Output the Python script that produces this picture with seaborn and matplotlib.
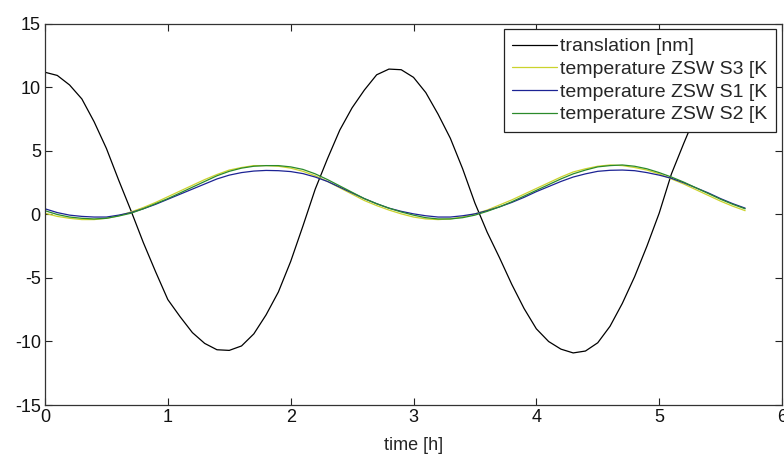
import matplotlib
matplotlib.use("Agg")
import matplotlib.pyplot as plt
from matplotlib import font_manager
import numpy as np
import pandas as pd
import seaborn as sns

# time axis in hours (sampled every 0.1 h)
time_h = [round(0.1 * i, 1) for i in range(58)]

translation_nm = [
    11.2, 10.95, 10.2, 9.1, 7.3, 5.2, 2.7, 0.3, -2.2, -4.5,
    -6.7, -8.05, -9.3, -10.15, -10.65, -10.7, -10.35, -9.4, -7.9, -6.1,
    -3.7, -0.9, 2.0, 4.4, 6.65, 8.4, 9.8, 11.0, 11.45, 11.4,
    10.8, 9.6, 7.9, 6.0, 3.6, 0.9, -1.4, -3.4, -5.5, -7.4,
    -9.0, -10.0, -10.6, -10.9, -10.75, -10.1, -8.8, -7.0, -4.9, -2.5,
    0.1, 3.2, 5.6, 7.9, 9.6, 10.8, 11.3, 11.4,
]

temp_s3 = [
    0.1, -0.15, -0.3, -0.4, -0.4, -0.3, -0.1, 0.2, 0.55, 0.95,
    1.4, 1.85, 2.3, 2.75, 3.15, 3.5, 3.7, 3.85, 3.85, 3.8,
    3.65, 3.4, 3.05, 2.6, 2.1, 1.6, 1.1, 0.7, 0.35, 0.05,
    -0.2, -0.35, -0.4, -0.35, -0.2, 0.05, 0.35, 0.75, 1.15, 1.6,
    2.05, 2.5, 2.95, 3.35, 3.6, 3.8, 3.9, 3.85, 3.7, 3.5,
    3.2, 2.8, 2.4, 1.95, 1.5, 1.05, 0.65, 0.3,
]

temp_s1 = [
    0.45, 0.15, -0.05, -0.15, -0.2, -0.2, -0.05, 0.15, 0.45, 0.8,
    1.2, 1.6, 2.0, 2.4, 2.8, 3.1, 3.3, 3.42, 3.47, 3.45,
    3.38, 3.22, 2.95, 2.6, 2.15, 1.7, 1.25, 0.85, 0.5, 0.25,
    0.05, -0.1, -0.2, -0.2, -0.1, 0.05, 0.3, 0.6, 0.95, 1.35,
    1.8, 2.2, 2.6, 2.95, 3.2, 3.4, 3.48, 3.5, 3.45, 3.3,
    3.1, 2.85, 2.5, 2.1, 1.7, 1.25, 0.85, 0.5,
]

temp_s2 = [
    0.3, 0.0, -0.2, -0.3, -0.35, -0.3, -0.12, 0.1, 0.45, 0.85,
    1.25, 1.7, 2.15, 2.6, 3.05, 3.4, 3.65, 3.8, 3.85, 3.85,
    3.75, 3.55, 3.2, 2.75, 2.25, 1.75, 1.25, 0.85, 0.5, 0.2,
    -0.05, -0.25, -0.35, -0.35, -0.25, -0.05, 0.25, 0.6, 1.0, 1.45,
    1.9, 2.35, 2.8, 3.2, 3.5, 3.75, 3.85, 3.9, 3.8, 3.6,
    3.3, 2.95, 2.55, 2.1, 1.65, 1.2, 0.8, 0.45,
]

series_names = [
    "translation [nm]",
    "temperature ZSW S3 [K",
    "temperature ZSW S1 [K",
    "temperature ZSW S2 [K",
]
series_colors = ["#000000", "#cbd32c", "#1c2394", "#2b8a2b"]

x_ticks = [0, 1, 2, 3, 4, 5, 6]
y_ticks = [-15, -10, -5, 0, 5, 10, 15]

df = pd.concat(
    [
        pd.DataFrame({"time": time_h, "value": vals, "series": name})
        for name, vals in zip(series_names, [translation_nm, temp_s3, temp_s1, temp_s2])
    ],
    ignore_index=True,
)

sns.set_style("ticks")


def pick_font(candidates):
    for name in candidates:
        try:
            font_manager.findfont(name, fallback_to_default=False)
            return name
        except Exception:
            continue
    return "DejaVu Sans"


regular = pick_font(["Liberation Sans", "Arial", "DejaVu Sans"])
narrow = pick_font(["Liberation Sans Narrow", "Liberation Sans", "DejaVu Sans"])
plt.rcParams["font.family"] = [regular, "DejaVu Sans"]

fig = plt.figure(figsize=(7.84, 4.55), dpi=100)
ax = fig.add_axes([45 / 784, 1 - 405 / 455, 737 / 784, 381 / 455])

sns.lineplot(
    data=df, x="time", y="value", hue="series",
    hue_order=series_names, palette=dict(zip(series_names, series_colors)),
    linewidth=0.9, ax=ax, legend=True, estimator=None, sort=False,
)

ax.set_xlim(0, 6)
ax.set_ylim(-15, 15)
ax.set_xticks(x_ticks)
ax.set_yticks(y_ticks)
ax.set_xticklabels([str(v) for v in x_ticks], fontfamily=narrow, fontsize=13)
ax.set_yticklabels([str(v) for v in y_ticks], fontfamily=narrow, fontsize=13)
ax.set_xlabel("time [h]", fontfamily=narrow, fontsize=13, labelpad=8)
ax.set_ylabel("")

ax.tick_params(direction="in", length=5, width=0.8, color="#222222",
               top=True, right=True, pad=3, labelcolor="#111111")
for sp in ax.spines.values():
    sp.set_visible(True)
    sp.set_linewidth(0.9)
    sp.set_color("#333333")

leg = ax.legend(
    loc="upper right", bbox_to_anchor=(776 / 784, 1 - 29 / 455),
    bbox_transform=fig.transFigure, borderaxespad=0,
    fontsize=14, frameon=True, fancybox=False, framealpha=1,
    edgecolor="#222222", handlelength=2.3, handletextpad=0.15,
    labelspacing=0.26, borderpad=0.45, title=None,
)
leg.get_frame().set_linewidth(0.9)
for line in leg.get_lines():
    line.set_linewidth(0.9)

fig.savefig("out.png", dpi=100, facecolor="white")
